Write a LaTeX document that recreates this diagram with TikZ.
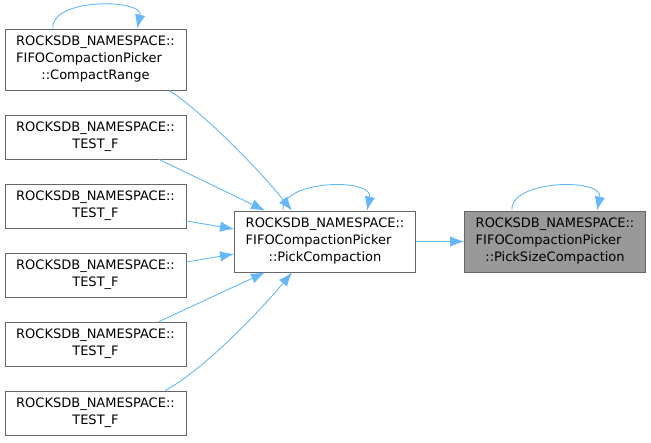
\documentclass[tikz,border=0pt]{standalone}
\usepackage{fontspec}
\setmainfont{DejaVu Sans}
\usetikzlibrary{arrows.meta,calc}
\definecolor{edgeblue}{HTML}{63B8FF}
\definecolor{boxline}{HTML}{666666}
\definecolor{hifill}{HTML}{999999}
\newcommand{\fnlabel}[2]{\begin{tabular}{@{}l@{}}#1\\\multicolumn{1}{@{}c@{}}{#2}\end{tabular}}
\newcommand{\fnlabelthree}[3]{\begin{tabular}{@{}l@{}}#1\\#2\\\multicolumn{1}{@{}c@{}}{#3}\end{tabular}}
\begin{document}
\begin{tikzpicture}[x=1pt,y=1pt,
  fnbox/.style={draw=boxline,line width=0.8pt,fill=white,minimum width=181pt,inner sep=0pt,
    font=\fontsize{13}{17}\selectfont,text=black},
  twoline/.style={fnbox,minimum height=44pt},
  threeline/.style={fnbox,minimum height=61pt},
  hilite/.style={fill=hifill},
  edge/.style={draw=edgeblue,line width=0.9pt,-{Latex[length=14pt,width=10.5pt]}}]
\useasboundingbox (0,0) rectangle (651,-443);
\node[threeline] (cr) at (95.5,-59.5) {\fnlabelthree{ROCKSDB\_NAMESPACE::}{FIFOCompactionPicker}{::CompactRange}};
\node[twoline] (t1) at (95.5,-137) {\fnlabel{ROCKSDB\_NAMESPACE::}{TEST\_F}};
\node[twoline] (t2) at (95.5,-206) {\fnlabel{ROCKSDB\_NAMESPACE::}{TEST\_F}};
\node[twoline] (t3) at (95.5,-275) {\fnlabel{ROCKSDB\_NAMESPACE::}{TEST\_F}};
\node[twoline] (t4) at (95.5,-344) {\fnlabel{ROCKSDB\_NAMESPACE::}{TEST\_F}};
\node[twoline] (t5) at (95.5,-413) {\fnlabel{ROCKSDB\_NAMESPACE::}{TEST\_F}};
\node[threeline] (pc) at (325,-241.5) {\fnlabelthree{ROCKSDB\_NAMESPACE::}{FIFOCompactionPicker}{::PickCompaction}};
\node[threeline,hilite] (psc) at (555,-241.5) {\fnlabelthree{ROCKSDB\_NAMESPACE::}{FIFOCompactionPicker}{::PickSizeCompaction}};
% edges
\draw[edge] ([xshift=-42.5pt]cr.north) .. controls +(-3,31) and +(7,30) .. ([xshift=41.5pt]cr.north);
\draw[edge] ([xshift=73.5pt]cr.south) .. controls (200,-110) and (255,-165) .. ([xshift=-33pt]pc.north);
\draw[edge] ([xshift=63.5pt]t1.south) -- ([xshift=-60pt]pc.north);
\draw[edge] ([yshift=-15pt]t2.east) -- ([yshift=12.5pt]pc.west);
\draw[edge] ([yshift=13pt]t3.east) -- ([yshift=-12.5pt]pc.west);
\draw[edge] ([xshift=63.5pt]t4.north) -- ([xshift=-60pt]pc.south);
\draw[edge] ([xshift=69.5pt]t5.north) .. controls (200,-372) and (255,-317) .. ([xshift=-33pt]pc.south);
\draw[edge] ([xshift=-42pt]pc.north) .. controls +(-3,31) and +(7,33) .. ([xshift=42pt]pc.north);
\draw[edge] (pc.east) -- (psc.west);
\draw[edge] ([xshift=-43pt]psc.north) .. controls +(-3,31) and +(7,33) .. ([xshift=42pt]psc.north);
\end{tikzpicture}
\end{document}
